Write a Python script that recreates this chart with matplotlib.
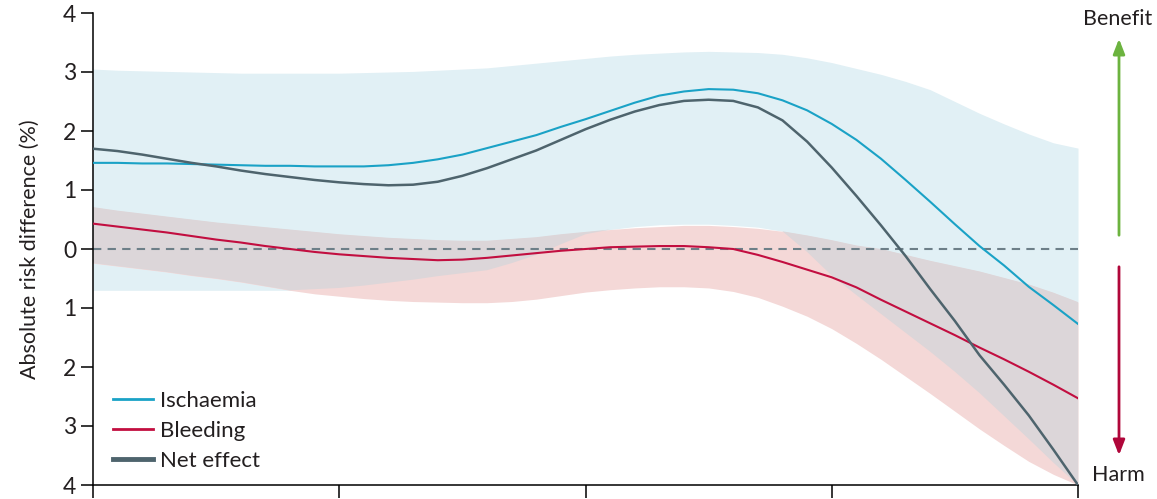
import numpy as np
import matplotlib
matplotlib.use("Agg")
import matplotlib.pyplot as plt
from matplotlib.lines import Line2D

plt.rcParams['font.family'] = ['Lato', 'DejaVu Sans']

# x positions (arbitrary units, 5 unlabeled ticks at 0..4)
x = [0.0, 0.1, 0.2, 0.3, 0.4, 0.5, 0.6, 0.7, 0.8, 0.9, 1.0,
     1.1, 1.2, 1.3, 1.4, 1.5, 1.6, 1.7, 1.8, 1.9, 2.0,
     2.1, 2.2, 2.3, 2.4, 2.5, 2.6, 2.7, 2.8, 2.9, 3.0,
     3.1, 3.2, 3.3, 3.4, 3.5, 3.6, 3.7, 3.8, 3.9, 4.0]

ischaemia = [1.46, 1.46, 1.45, 1.45, 1.44, 1.43, 1.42, 1.41, 1.41, 1.40, 1.40,
             1.40, 1.42, 1.46, 1.52, 1.60, 1.71, 1.82, 1.93, 2.07, 2.20,
             2.34, 2.48, 2.60, 2.67, 2.71, 2.70, 2.64, 2.52, 2.35, 2.12,
             1.85, 1.53, 1.17, 0.80, 0.42, 0.05, -0.28, -0.64, -0.95, -1.27]
ischaemia_hi = [3.05, 3.03, 3.02, 3.01, 3.00, 2.99, 2.98, 2.98, 2.98, 2.98, 2.98,
                2.99, 3.00, 3.01, 3.03, 3.05, 3.07, 3.11, 3.15, 3.19, 3.23,
                3.27, 3.30, 3.32, 3.34, 3.35, 3.34, 3.33, 3.30, 3.24, 3.16,
                3.06, 2.96, 2.84, 2.70, 2.50, 2.30, 2.12, 1.95, 1.80, 1.71]
ischaemia_lo = [-0.70, -0.70, -0.70, -0.70, -0.70, -0.70, -0.70, -0.70, -0.70, -0.68, -0.66,
                -0.62, -0.57, -0.52, -0.46, -0.41, -0.36, -0.24, -0.10, 0.08, 0.25,
                0.33, 0.38, 0.41, 0.42, 0.42, 0.40, 0.37, 0.30, -0.05, -0.45,
                -0.78, -1.10, -1.42, -1.74, -2.08, -2.44, -2.83, -3.22, -3.62, -4.00]

bleeding = [0.43, 0.38, 0.33, 0.28, 0.22, 0.16, 0.11, 0.05, 0.00, -0.05, -0.09,
            -0.12, -0.15, -0.17, -0.19, -0.18, -0.15, -0.11, -0.07, -0.03, 0.00,
            0.03, 0.04, 0.05, 0.05, 0.03, 0.00, -0.10, -0.22, -0.35, -0.48,
            -0.65, -0.86, -1.06, -1.26, -1.46, -1.67, -1.87, -2.08, -2.30, -2.53]
bleeding_hi = [0.71, 0.65, 0.60, 0.55, 0.50, 0.45, 0.41, 0.37, 0.33, 0.29, 0.25,
               0.22, 0.19, 0.17, 0.15, 0.14, 0.14, 0.17, 0.20, 0.25, 0.29,
               0.33, 0.36, 0.38, 0.40, 0.40, 0.38, 0.35, 0.30, 0.23, 0.15,
               0.06, 0.00, -0.10, -0.20, -0.29, -0.38, -0.49, -0.60, -0.74, -0.90]
bleeding_lo = [-0.24, -0.29, -0.34, -0.39, -0.45, -0.50, -0.56, -0.63, -0.70, -0.76, -0.80,
               -0.84, -0.87, -0.89, -0.90, -0.91, -0.91, -0.89, -0.85, -0.79, -0.73,
               -0.69, -0.66, -0.64, -0.64, -0.66, -0.72, -0.82, -0.97, -1.14, -1.35,
               -1.60, -1.87, -2.16, -2.45, -2.75, -3.05, -3.33, -3.60, -3.82, -4.00]

net_effect = [1.70, 1.66, 1.60, 1.53, 1.46, 1.40, 1.33, 1.27, 1.22, 1.17, 1.13,
              1.10, 1.08, 1.09, 1.14, 1.24, 1.37, 1.52, 1.67, 1.85, 2.03,
              2.19, 2.33, 2.44, 2.51, 2.53, 2.51, 2.40, 2.18, 1.82, 1.38,
              0.90, 0.40, -0.12, -0.68, -1.22, -1.80, -2.30, -2.82, -3.40, -4.00]

yticks = [-4, -3, -2, -1, 0, 1, 2, 3, 4]
ytick_labels = ['4', '3', '2', '1', '0', '1', '2', '3', '4']

c_blue_band = '#e1f0f5'
c_pink_band = '#f4d8d7'
c_overlap = '#dcd6d9'
c_isch = '#1aa2c6'
c_bleed = '#c20e40'
c_net = '#4e646d'
c_text = '#231f20'

fig = plt.figure(figsize=(11.57, 4.99), dpi=100)
ax = fig.add_axes([93 / 1157, 1 - 485 / 499, (1078 - 93) / 1157, (485 - 13) / 499])

xa = np.array(x)
ilo, ihi = np.array(ischaemia_lo), np.array(ischaemia_hi)
blo, bhi = np.array(bleeding_lo), np.array(bleeding_hi)

ax.fill_between(xa, ilo, ihi, color=c_blue_band, lw=0)
ax.fill_between(xa, blo, bhi, color=c_pink_band, lw=0)
# where the two intervals overlap the fill looks grey
olo = np.maximum(ilo, blo)
ohi = np.minimum(ihi, bhi)
ax.fill_between(xa, olo, ohi, where=ohi > olo, interpolate=True, color=c_overlap, lw=0)

ax.axhline(0, color='#6d7f88', lw=1.5, ls=(0, (4, 3)), zorder=2)

ax.plot(xa, ischaemia, color=c_isch, lw=1.5, zorder=3)
ax.plot(xa, bleeding, color=c_bleed, lw=1.5, zorder=3)
ax.plot(xa, net_effect, color=c_net, lw=1.8, zorder=3)

ax.set_xlim(0, 4)
ax.set_ylim(-4, 4)
ax.set_xticks([0, 1, 2, 3, 4])
ax.set_xticklabels([])
ax.set_yticks(yticks)
ax.set_yticklabels(ytick_labels)
ax.tick_params(axis='both', direction='out', length=9, width=1.1, color='black',
               labelsize=16.5, labelcolor=c_text, pad=3)
for s in ['top', 'right']:
    ax.spines[s].set_visible(False)
for s in ['left', 'bottom']:
    ax.spines[s].set_linewidth(1.1)
ax.set_ylabel('Absolute risk difference (%)', fontsize=15.5, color=c_text, labelpad=17)

handles = [Line2D([], [], color=c_isch, lw=2),
           Line2D([], [], color=c_bleed, lw=2),
           Line2D([], [], color=c_net, lw=3.5)]
ax.legend(handles, ['Ischaemia', 'Bleeding', 'Net effect'], loc='lower left',
          bbox_to_anchor=(0.0, -0.012), frameon=False, fontsize=16, handlelength=1.8,
          handletextpad=0.3, labelspacing=0.45, labelcolor=c_text)

# benefit / harm arrows on the right
ax.annotate('', xy=(1119, 499 - 36), xytext=(1119, 499 - 238), xycoords='figure pixels',
            textcoords='figure pixels',
            arrowprops=dict(arrowstyle='-|>,head_length=0.9,head_width=0.35', color='#6cb33f', lw=2))
ax.annotate('', xy=(1119, 499 - 458), xytext=(1119, 499 - 264), xycoords='figure pixels',
            textcoords='figure pixels',
            arrowprops=dict(arrowstyle='-|>,head_length=0.9,head_width=0.35', color='#b0063a', lw=2))
fig.text(1118 / 1157, 1 - 19 / 499, 'Benefit', ha='center', va='center', fontsize=15.5, color=c_text)
fig.text(1118 / 1157, 1 - 475 / 499, 'Harm', ha='center', va='center', fontsize=15.5, color=c_text)

fig.savefig('out.png', dpi=100)
